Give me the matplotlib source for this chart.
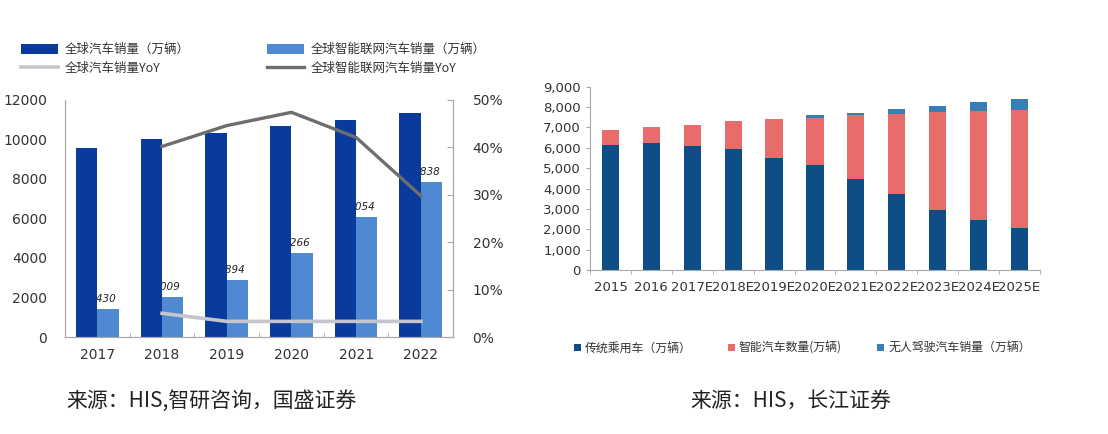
import numpy as np
import matplotlib
matplotlib.use("Agg")
import matplotlib.pyplot as plt
from matplotlib.ticker import FuncFormatter, FixedLocator

plt.rcParams['font.family'] = ['DejaVu Sans', 'Noto Sans CJK SC']
CJK = ['Noto Sans CJK SC', 'DejaVu Sans']

# left chart data
years_left = ["2017", "2018", "2019", "2020", "2021", "2022"]
global_sales = [9580, 10050, 10340, 10690, 11010, 11350]
smart_sales = [1430, 2009, 2894, 4266, 6054, 7838]
global_yoy = [None, 5.0, 3.3, 3.3, 3.3, 3.3]
smart_yoy = [None, 40.2, 44.6, 47.4, 42.1, 29.8]

# right chart data
years_right = ["2015", "2016", "2017E", "2018E", "2019E", "2020E",
               "2021E", "2022E", "2023E", "2024E", "2025E"]
traditional = [6137, 6219, 6072, 5925, 5516, 5155, 4484, 3715, 2930, 2471, 2062]
smart_cars = [737, 786, 1047, 1391, 1898, 2325, 3143, 3928, 4828, 5336, 5794]
driverless = [0, 0, 0, 0, 0, 114, 82, 246, 311, 425, 540]

DARK = '#0a3b9c'
LIGHT = '#4f89d2'
LINE_LIGHT = '#c4c6cc'
LINE_DARK = '#6e6e6e'
SPINE = '#a8a8a8'

fig = plt.figure(figsize=(11.08, 4.34), dpi=100)

# ---------------- left chart ----------------
ax1 = fig.add_axes([0.0587, 0.2235, 0.3503, 0.5461])
x = np.arange(len(years_left))
w = 0.33
b1 = ax1.bar(x - w / 2, global_sales, w, color=DARK, zorder=2)
b2 = ax1.bar(x + w / 2, smart_sales, w, color=LIGHT, zorder=2)
for xi, v in zip(x, smart_sales):
    ax1.text(xi + 0.06, v + 250, f"{v:,}", fontsize=7.5, color='#222222',
             ha='center', va='bottom', zorder=1, style='italic')
ax1.set_xlim(-0.5, 5.5)
ax1.set_ylim(0, 12000)
ax1.set_yticks(range(0, 12001, 2000))
ax1.set_xticks(x)
ax1.set_xticklabels(years_left, fontsize=10, color='#333333')
ax1.xaxis.set_minor_locator(FixedLocator(np.arange(0.5, 5, 1)))
ax1.tick_params(axis='x', which='major', length=0, pad=8)
ax1.tick_params(axis='x', which='minor', length=3, direction='in', color=SPINE)
ax1.tick_params(axis='y', labelsize=10, length=0, pad=13, labelcolor='#333333')
ax1.spines['top'].set_visible(False)
for s in ['left', 'bottom', 'right']:
    ax1.spines[s].set_color(SPINE)

ax1b = ax1.twinx()
xl = x[1:]
l1, = ax1b.plot(xl, global_yoy[1:], color=LINE_LIGHT, lw=2.6, zorder=3)
l2, = ax1b.plot(xl, smart_yoy[1:], color=LINE_DARK, lw=2.4, zorder=3)
ax1b.set_ylim(0, 50)
ax1b.set_yticks(range(0, 51, 10))
ax1b.yaxis.set_major_formatter(FuncFormatter(lambda v, p: f"{int(v)}%"))
ax1b.tick_params(axis='y', labelsize=10, length=4, direction='in',
                 color=SPINE, pad=14, labelcolor='#333333')
ax1b.spines['top'].set_visible(False)
for s in ['left', 'bottom', 'right']:
    ax1b.spines[s].set_color(SPINE)

leg1 = fig.legend([b1, l1, b2, l2],
                  ["全球汽车销量（万辆）", "全球汽车销量YoY",
                   "全球智能联网汽车销量（万辆）", "全球智能联网汽车销量YoY"],
                  ncol=2, loc='upper left', bbox_to_anchor=(0.014, 0.912),
                  frameon=False, prop={'family': CJK, 'size': 9},
                  handlelength=3.0, handleheight=0.8, labelspacing=0.45,
                  columnspacing=6.2, handletextpad=0.5, borderaxespad=0)
for t in leg1.get_texts():
    t.set_color('#333333')

fig.text(0.06, 0.062, "来源：HIS,智研咨询，国盛证券", family=CJK, fontsize=15,
         color='#222222')

# ---------------- right chart ----------------
ax2 = fig.add_axes([0.5325, 0.378, 0.4061, 0.422])
xr = np.arange(len(years_right))
wr = 0.42
bottom2 = np.array(traditional)
bottom3 = bottom2 + np.array(smart_cars)
r1 = ax2.bar(xr, traditional, wr, color='#0d4e87', zorder=2)
r2 = ax2.bar(xr, smart_cars, wr, bottom=bottom2, color='#e86c6a', zorder=2)
r3 = ax2.bar(xr, driverless, wr, bottom=bottom3, color='#3a7db5', zorder=2)
ax2.set_xlim(-0.5, 10.5)
ax2.set_ylim(0, 9000)
ax2.set_yticks(range(0, 9001, 1000))
ax2.yaxis.set_major_formatter(FuncFormatter(lambda v, p: f"{int(v):,}"))
ax2.set_xticks(xr)
ax2.set_xticklabels(years_right, fontsize=9.5, color='#333333')
ax2.xaxis.set_minor_locator(FixedLocator(np.arange(-0.5, 10.6, 1)))
ax2.tick_params(axis='x', which='major', length=0, pad=8)
ax2.tick_params(axis='x', which='minor', length=3, color=SPINE)
ax2.tick_params(axis='y', labelsize=9.5, length=3, color=SPINE, labelcolor='#333333')
for s in ['top', 'right']:
    ax2.spines[s].set_visible(False)
for s in ['left', 'bottom']:
    ax2.spines[s].set_color(SPINE)

leg2 = fig.legend([r1, r2, r3],
                  ["传统乘用车（万辆）", "智能汽车数量(万辆)", "无人驾驶汽车销量（万辆）"],
                  ncol=3, loc='center left', bbox_to_anchor=(0.514, 0.198),
                  frameon=False, prop={'family': CJK, 'size': 8.6},
                  handlelength=0.6, handleheight=0.6, handletextpad=0.3,
                  columnspacing=3.0, borderaxespad=0)
for t in leg2.get_texts():
    t.set_color('#333333')

fig.text(0.623, 0.062, "来源：HIS，长江证券", family=CJK, fontsize=15,
         color='#222222')

fig.savefig("out.png", dpi=100, facecolor='white')
